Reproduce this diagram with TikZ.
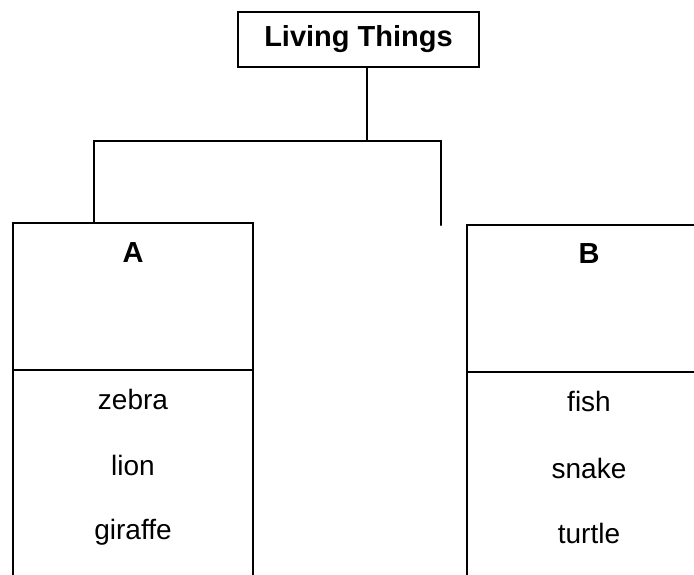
\documentclass[tikz,border=0pt]{standalone}
\usepackage{fontspec}
\setmainfont{Liberation Sans}
\begin{document}
\begin{tikzpicture}[x=1pt,y=-1pt,
  ln/.style={line width=2.1pt, line cap=round},
  title/.style={font=\fontsize{29}{32}\selectfont\bfseries},
  head/.style={font=\fontsize{29}{32}\selectfont\bfseries, anchor=base},
  item/.style={font=\fontsize{28}{32}\selectfont, anchor=base},
  box/.style={draw, ln, inner sep=0pt, outer sep=0pt, anchor=north west}]
\clip (0,0) rectangle (694,574);
\fill[white] (0,0) rectangle (694,574);
% top box
\node[box, minimum width=241pt, minimum height=55pt] (top) at (238,12) {};
\node[title] (tt) at (top.center) {Living Things};
% header boxes
\node[box, minimum width=240pt, minimum height=147pt] (hA) at (13,223) {};
\node[box, minimum width=260pt, minimum height=147pt] (hB) at (467,225) {};
\node[head] (la) at (133,262) {A};
\node[head] (lb) at (589,263) {B};
% connectors
\coordinate (tj) at (367,141);
\coordinate (jl) at (94,141);
\coordinate (jr) at (441,141);
\draw[ln] (tj |- top.south) -- (tj);
\draw[ln] (jl) -- (jr);
\draw[ln] (jl) -- (jl |- hA.north);
\draw[ln] (jr) -- (jr |- hB.north);
% lower parts (open at bottom)
\coordinate (bottom) at (0,590);
\draw[ln] (hA.south west) -- (hA.south west |- bottom);
\draw[ln] (hA.south east) -- (hA.south east |- bottom);
\draw[ln] (hB.south west) -- (hB.south west |- bottom);
% items
\node[item] (a1) at (133,409) {zebra};
\node[item] (a2) at (133,475) {lion};
\node[item] (a3) at (133,539) {giraffe};
\node[item] (b1) at (589,411) {fish};
\node[item] (b2) at (589,478) {snake};
\node[item] (b3) at (589,543) {turtle};
\end{tikzpicture}
\end{document}
